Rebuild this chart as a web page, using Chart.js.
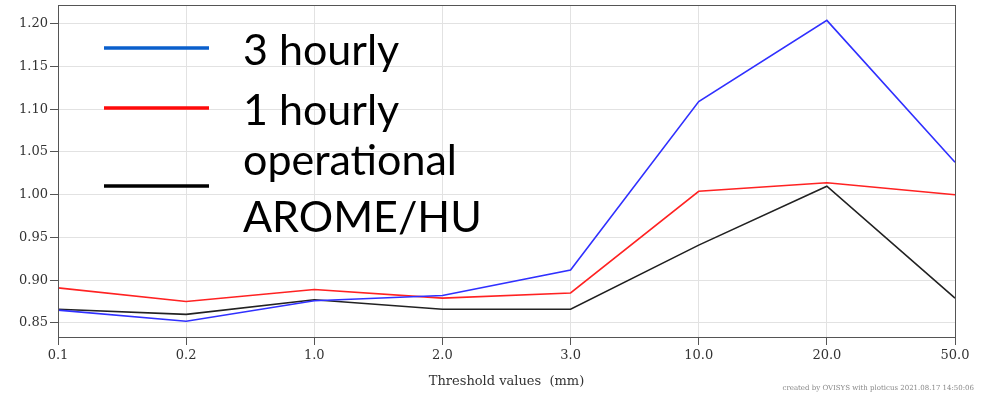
<!DOCTYPE html>
<html>
<head>
<meta charset="utf-8">
<script src="https://cdn.jsdelivr.net/npm/chart.js@4/dist/chart.umd.min.js"></script>
<style>
  html, body { margin: 0; padding: 0; background: #fff; }
  #wrap { width: 985px; height: 393px; }
</style>
</head>
<body>
<div id="wrap"><canvas id="verifChart" width="985" height="393"></canvas></div>
<script>
// thresholds (mm)
var thresholds = ["0.1", "0.2", "1.0", "2.0", "3.0", "10.0", "20.0", "50.0"];
var threeHourly = [0.865, 0.852, 0.876, 0.882, 0.912, 1.109, 1.204, 1.038];
var oneHourly = [0.891, 0.875, 0.889, 0.879, 0.885, 1.004, 1.014, 1.000];
var operational = [0.866, 0.860, 0.877, 0.866, 0.866, 0.941, 1.010, 0.879];
var yTicks = [0.85, 0.90, 0.95, 1.00, 1.05, 1.10, 1.15, 1.20];
var legendLabels = [["3 hourly"], ["1 hourly"], ["operational", "AROME/HU"]];
var legendColors = ["#0a5fcc", "#ff0a0a", "#000000"];

var serif = "'DejaVu Serif', 'Liberation Serif', serif";

// big legend + frame + credit line
var extras = {
  id: "extras",
  afterDraw: function (chart) {
    let c = chart.ctx;
    let a = chart.chartArea;
    c.save();
    c.strokeStyle = "#555";
    c.lineWidth = 1;
    c.strokeRect(a.left + 0.5, a.top + 0.5, a.right - a.left, a.bottom - a.top);

    let lineY = [48, 108, 186];
    let textY = [[65], [125], [175, 232]];
    c.font = "43px Lato, 'Open Sans', sans-serif";
    c.textBaseline = "alphabetic";
    c.textAlign = "left";
    legendLabels.forEach((lab, i) => {
      c.strokeStyle = legendColors[i];
      c.lineWidth = 3.5;
      c.beginPath();
      c.moveTo(104, lineY[i]);
      c.lineTo(209, lineY[i]);
      c.stroke();
      c.fillStyle = "#000";
      lab.forEach((t, j) => {
        c.fillText(t, 243, textY[i][j]);
      });
    });

    c.font = "7px " + serif;
    c.fillStyle = "#888";
    c.textAlign = "right";
    c.fillText("created by OVISYS with ploticus 2021.08.17 14:50:06", 974, 390);
    c.restore();
  },
};

var ctx = document.getElementById("verifChart").getContext("2d");
var verifChart = new Chart(ctx, {
  type: "line",
  data: {
    labels: thresholds,
    datasets: [
      { label: "3 hourly", data: threeHourly, borderColor: "#3030ff", borderWidth: 1.6, pointRadius: 0, tension: 0 },
      { label: "1 hourly", data: oneHourly, borderColor: "#ff2222", borderWidth: 1.6, pointRadius: 0, tension: 0 },
      { label: "operational AROME/HU", data: operational, borderColor: "#222222", borderWidth: 1.6, pointRadius: 0, tension: 0 },
    ],
  },
  options: {
    responsive: false,
    animation: false,
    layout: { padding: { top: 5, right: 30, left: 0, bottom: 0 } },
    plugins: {
      legend: { display: false },
      tooltip: { enabled: false },
    },
    scales: {
      x: {
        offset: false,
        grid: { color: "#e2e2e2", tickColor: "#555", tickLength: 8, drawTicks: true },
        border: { color: "#555" },
        ticks: { color: "#333", font: { family: serif, size: 13 }, padding: 3, maxRotation: 0, autoSkip: false },
        title: {
          display: true,
          text: "Threshold values  (mm)",
          color: "#333",
          font: { family: serif, size: 13 },
          padding: { top: 0, bottom: 4 },
        },
        afterFit: function (scale) { scale.height = 56; },
      },
      y: {
        min: 0.8335,
        max: 1.222,
        grid: { color: "#e2e2e2", tickColor: "#555", tickLength: 8 },
        border: { color: "#555" },
        ticks: {
          color: "#333",
          font: { family: serif, size: 13 },
          padding: 2,
          callback: function (v) { return Number(v).toFixed(2); },
        },
        afterBuildTicks: function (scale) {
          scale.ticks = yTicks.map((v) => ({ value: v }));
        },
        afterFit: function (scale) {
          scale.width = 58;
          scale.paddingTop = 0;
          scale.paddingBottom = 0;
        },
      },
    },
  },
  plugins: [extras],
});
</script>
</body>
</html>
